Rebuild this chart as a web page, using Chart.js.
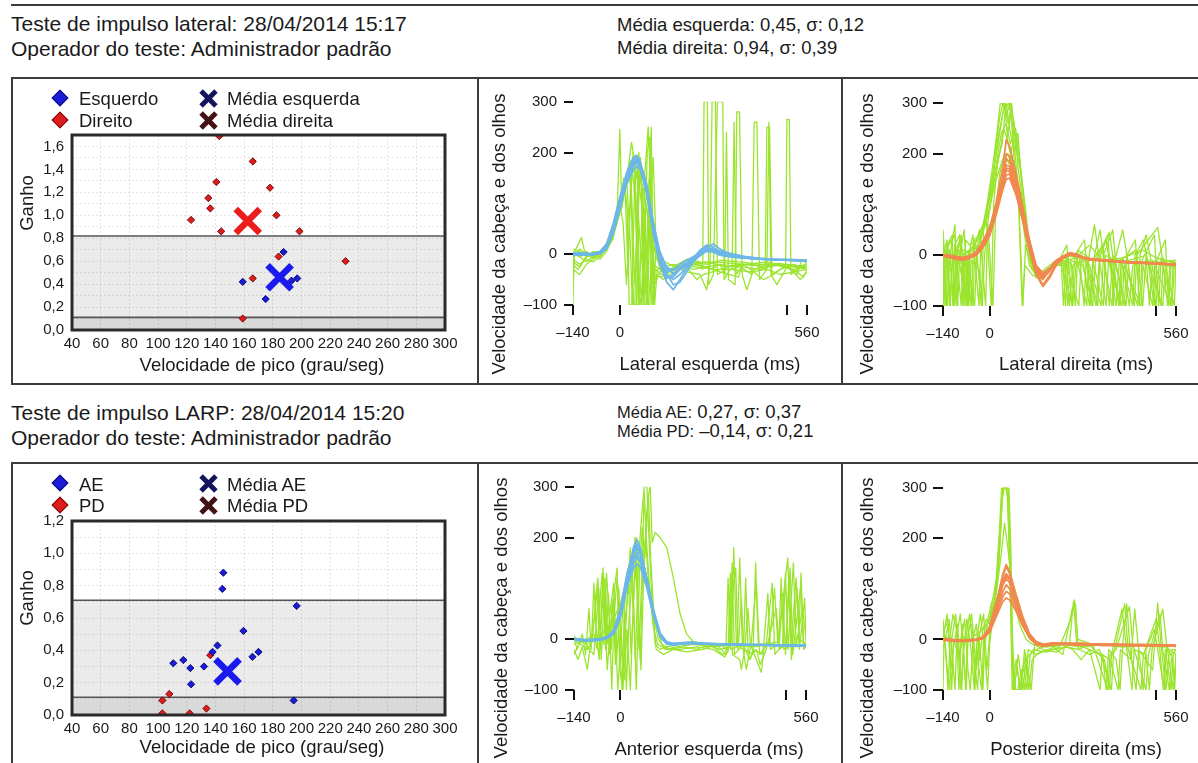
<!DOCTYPE html>
<html>
<head>
<meta charset="utf-8">
<script src="https://cdn.jsdelivr.net/npm/chart.js@4.4.1/dist/chart.umd.min.js"></script>
<style>
body{margin:0;background:#fff;font-family:"Liberation Sans",Arial,Helvetica,sans-serif;color:#1a1a1a}
#pagina{position:relative;width:1198px;height:763px;overflow:hidden}
.t{position:absolute;white-space:nowrap;line-height:1.15}
.cx{position:absolute;white-space:nowrap;line-height:1.15;transform:translateX(-50%)}
.rot{position:absolute;white-space:nowrap;line-height:1.15;transform:translate(-50%,-50%) rotate(-90deg)}
.ln{position:absolute;background:#3c3c3c}
canvas{position:absolute}
.dia{position:absolute;width:10px;height:10px;transform:translate(-50%,-50%) rotate(45deg)}
.xb{position:absolute;width:21px;height:5px;margin-left:-10.5px;margin-top:-2.5px}
</style>
</head>
<body>
<div id="pagina">

<div class="ln" style="left:11px;top:4px;width:1187px;height:1.5px"></div>

<div class="t" style="left:11px;top:12.3px;font-size:21px">Teste de impulso lateral: 28/04/2014 15:17</div>
<div class="t" style="left:11px;top:37.3px;font-size:21px">Operador do teste: Administrador padrão</div>
<div class="t" style="left:617px;top:13.6px;font-size:18.5px">Média esquerda: 0,45, σ: 0,12</div>
<div class="t" style="left:617px;top:37px;font-size:18.5px">Média direita: 0,94, σ: 0,39</div>

<div class="ln" style="left:11px;top:77px;width:1187px;height:1.5px"></div>
<div class="ln" style="left:11px;top:383px;width:1187px;height:1.5px"></div>
<div class="ln" style="left:11px;top:77px;width:1.5px;height:307px"></div>
<div class="ln" style="left:477px;top:77px;width:1.5px;height:307px"></div>
<div class="ln" style="left:841px;top:77px;width:1.5px;height:307px"></div>

<div class="t" style="left:11px;top:400.6px;font-size:21px">Teste de impulso LARP: 28/04/2014 15:20</div>
<div class="t" style="left:11px;top:425.6px;font-size:21px">Operador do teste: Administrador padrão</div>
<div class="t" style="left:617px;top:400.5px;font-size:18.5px"><span style="font-size:16.5px">Média AE:</span> 0,27, σ: 0,37</div>
<div class="t" style="left:617px;top:419.5px;font-size:18.5px"><span style="font-size:16.5px">Média PD:</span> –0,14, σ: 0,21</div>

<div class="ln" style="left:11px;top:462px;width:1187px;height:1.5px"></div>
<div class="ln" style="left:11px;top:462px;width:1.5px;height:301px"></div>
<div class="ln" style="left:477px;top:462px;width:1.5px;height:301px"></div>
<div class="ln" style="left:841px;top:462px;width:1.5px;height:301px"></div>

<canvas id="disp1" width="465" height="304" style="left:12px;top:79px"></canvas>
<canvas id="latEsq" width="362" height="304" style="left:479px;top:79px"></canvas>
<canvas id="latDir" width="355" height="304" style="left:843px;top:79px"></canvas>
<canvas id="disp2" width="465" height="300" style="left:12px;top:463px"></canvas>
<canvas id="antEsq" width="362" height="300" style="left:479px;top:463px"></canvas>
<canvas id="postDir" width="355" height="300" style="left:843px;top:463px"></canvas>

<!-- legendas dos graficos de dispersao -->
<div class="dia" style="left:60px;top:98px;background:#1c1cd8;border:1px solid #0a0a80"></div>
<div class="dia" style="left:60px;top:120px;background:#de1c1c;border:1px solid #7a0a0a"></div>
<div class="t" style="left:79px;top:88px;font-size:18.5px">Esquerdo</div>
<div class="t" style="left:79px;top:109.7px;font-size:18.5px">Direito</div>
<div class="xb" style="left:208px;top:98px;background:#14145e;transform:rotate(45deg)"></div>
<div class="xb" style="left:208px;top:98px;background:#14145e;transform:rotate(-45deg)"></div>
<div class="xb" style="left:208px;top:120px;background:#421212;transform:rotate(45deg)"></div>
<div class="xb" style="left:208px;top:120px;background:#421212;transform:rotate(-45deg)"></div>
<div class="t" style="left:227px;top:88px;font-size:18.5px">Média esquerda</div>
<div class="t" style="left:227px;top:109.7px;font-size:18.5px">Média direita</div>

<div class="dia" style="left:60px;top:483px;background:#1c1cd8;border:1px solid #0a0a80"></div>
<div class="dia" style="left:60px;top:505px;background:#de1c1c;border:1px solid #7a0a0a"></div>
<div class="t" style="left:79px;top:473.7px;font-size:18.5px">AE</div>
<div class="t" style="left:79px;top:495.3px;font-size:18.5px">PD</div>
<div class="xb" style="left:208px;top:483px;background:#14145e;transform:rotate(45deg)"></div>
<div class="xb" style="left:208px;top:483px;background:#14145e;transform:rotate(-45deg)"></div>
<div class="xb" style="left:208px;top:505px;background:#421212;transform:rotate(45deg)"></div>
<div class="xb" style="left:208px;top:505px;background:#421212;transform:rotate(-45deg)"></div>
<div class="t" style="left:227px;top:473.7px;font-size:18.5px">Média AE</div>
<div class="t" style="left:227px;top:495.3px;font-size:18.5px">Média PD</div>

<!-- titulos dos eixos -->
<div class="rot" style="left:27px;top:203px;font-size:18.5px">Ganho</div>
<div class="cx" style="left:262px;top:353.7px;font-size:18.5px">Velocidade de pico (grau/seg)</div>
<div class="rot" style="left:27px;top:598px;font-size:18.5px">Ganho</div>
<div class="cx" style="left:262px;top:736px;font-size:18.5px">Velocidade de pico (grau/seg)</div>

<div class="rot" style="left:499px;top:234px;font-size:18.5px">Velocidade da cabeça e dos olhos</div>
<div class="rot" style="left:867px;top:234px;font-size:18.5px">Velocidade da cabeça e dos olhos</div>
<div class="rot" style="left:501px;top:618px;font-size:18.5px">Velocidade da cabeça e dos olhos</div>
<div class="rot" style="left:867px;top:618px;font-size:18.5px">Velocidade da cabeça e dos olhos</div>

<div class="cx" style="left:710px;top:353px;font-size:18.5px">Lateral esquerda (ms)</div>
<div class="cx" style="left:1076px;top:353px;font-size:18.5px">Lateral direita (ms)</div>
<div class="cx" style="left:709px;top:738px;font-size:18.5px">Anterior esquerda (ms)</div>
<div class="cx" style="left:1076px;top:738px;font-size:18.5px">Posterior direita (ms)</div>

</div>
<script>
// ---------- dispersao: impulso lateral ----------
const velEsq1 = [187.5, 159, 197, 193, 175]
const ganhoEsq1 = [0.68, 0.42, 0.45, 0.43, 0.27]
const velDir1 = [142.7, 166, 140.6, 178, 135, 136.4, 123, 182.5, 144, 198.6, 184, 230.7, 166, 159]
const ganhoDir1 = [1.69, 1.47, 1.29, 1.24, 1.15, 1.06, 0.96, 1.0, 0.86, 0.86, 0.64, 0.60, 0.45, 0.10]
const mediaEsq1 = [184.7, 0.46]
const mediaDir1 = [162.5, 0.95]
const limites1 = [0.11, 0.82]

// ---------- dispersao: impulso LARP ----------
const velAE = [145.5, 144.8, 196.6, 159.5, 141.4, 138, 170, 165.8, 110.6, 117.6, 122.5, 132, 123, 194.5]
const ganhoAE = [0.88, 0.78, 0.675, 0.52, 0.43, 0.39, 0.39, 0.36, 0.32, 0.34, 0.29, 0.30, 0.19, 0.09]
const velPD = [136.4, 107.8, 103, 133.7, 103, 122]
const ganhoPD = [0.37, 0.13, 0.09, 0.04, 0.01, 0.01]
const mediaAE = [148.4, 0.27]
const limites2 = [0.11, 0.71]

// ---------- tracados de velocidade ----------
const xTicks = [-140, 0, 500, 560]
const xTickLabels = ['\u2013140', '0', '', '560']
const yTicks = [-100, 0, 200, 300]

const tCabeca = [-140,-120,-100,-80,-60,-40,-20,0,20,40,50,60,80,100,120,140,160,180,200,220,240,260,280,300,340,380,420,460,500,540,560]

const cabecaLatEsq = [
[2,0,-2,0,4,18,55,105,155,188,195,185,135,55,-8,-35,-30,-20,-12,-5,4,10,6,-2,-6,-8,-10,-11,-12,-13,-14],
[0,3,1,-2,2,12,45,95,145,178,186,178,128,48,-15,-45,-45,-30,-20,-8,8,18,14,2,-4,-7,-9,-10,-11,-12,-12],
[-3,-1,2,0,0,10,40,88,140,172,180,170,120,40,-20,-55,-70,-50,-28,-12,0,8,10,4,-2,-6,-8,-10,-12,-12,-13],
[1,2,0,1,5,20,60,112,160,190,192,180,125,45,-12,-40,-50,-40,-25,-10,2,15,20,10,-3,-7,-9,-10,-10,-11,-12],
[0,-2,-1,2,3,15,48,98,148,180,188,182,140,65,0,-28,-38,-30,-22,-12,-3,6,5,-1,-5,-8,-10,-11,-12,-13,-13],
[-2,1,0,-1,2,14,50,100,150,176,182,174,130,52,-10,-38,-60,-55,-35,-15,-2,10,12,6,0,-5,-8,-10,-11,-12,-12],
[2,0,1,0,4,16,52,103,152,184,190,176,122,42,-18,-48,-40,-28,-18,-8,6,14,8,0,-4,-8,-9,-11,-12,-12,-14],
[0,1,-1,1,3,12,42,90,138,165,172,168,132,60,5,-25,-32,-25,-16,-6,2,6,4,-2,-6,-8,-10,-12,-12,-13,-14]
]
const olhosLatEsq = [
[[-140,-100],[-137,0],[-120,-5],[-100,0],[-80,-5],[-60,0],[-40,10],[-20,30],[-8,80],[0,245],[6,90],[20,150],[30,40],[38,-100],[45,-100],[52,120],[60,30],[70,-40],[85,-100],[95,-20],[110,-25],[130,-35],[150,-30],[180,-20],[220,-15],[260,-20],[300,-12],[360,-15],[420,-20],[480,-18],[520,-25],[560,-20]],
[[-140,-60],[-135,5],[-115,33],[-105,5],[-80,-5],[-60,0],[-40,20],[-20,50],[0,100],[20,140],[35,220],[45,180],[55,-100],[65,-100],[75,160],[85,250],[92,140],[100,-100],[108,10],[120,-30],[140,-40],[160,-25],[200,-10],[240,-15],[248,-30],[252,300],[262,300],[266,-60],[280,-40],[292,300],[308,300],[312,-50],[330,-30],[380,-20],[440,-25],[500,-20],[560,-25]],
[[-140,-10],[-120,-20],[-100,-10],[-80,-15],[-60,-5],[-40,10],[-20,40],[0,90],[15,130],[25,170],[35,120],[45,-60],[55,80],[62,190],[70,60],[80,-100],[90,-100],[96,40],[105,-40],[125,-45],[145,-35],[180,-25],[230,-20],[270,-30],[300,-20],[314,-40],[319,240],[325,-50],[345,-60],[350,280],[358,280],[366,-40],[380,-70],[400,-30],[460,-20],[520,-25],[560,-30]],
[[-140,5],[-120,0],[-100,5],[-80,-5],[-60,-10],[-40,5],[-20,35],[0,85],[20,150],[30,185],[42,140],[50,40],[60,-100],[72,-60],[82,200],[90,230],[98,60],[104,-100],[112,-30],[130,-25],[160,-20],[220,-30],[300,-20],[360,-25],[395,-40],[402,260],[410,260],[418,-50],[440,-30],[446,260],[452,-40],[470,-60],[496,-30],[500,265],[507,265],[512,-40],[530,-30],[560,-20]],
[[-140,-30],[-120,-40],[-100,-20],[-80,-10],[-60,0],[-40,15],[-20,45],[0,95],[20,145],[40,170],[55,150],[65,100],[75,-100],[83,-100],[92,110],[100,190],[108,20],[120,-10],[150,-20],[200,-35],[240,-40],[260,-70],[270,-20],[276,300],[286,300],[292,-40],[320,-30],[336,-30],[342,260],[348,-40],[370,-20],[430,-50],[460,-40],[500,-20],[540,-50],[560,-35]],
[[-140,0],[-120,-5],[-100,-15],[-80,-5],[-60,0],[-40,10],[-20,35],[0,80],[20,135],[40,165],[60,150],[80,90],[100,20],[120,-20],[140,-35],[160,-30],[200,-20],[260,-15],[320,-25],[380,-20],[440,-15],[500,-25],[530,-40],[545,-10],[560,-20]],
[[-140,-20],[-125,-30],[-100,-5],[-80,5],[-60,5],[-40,20],[-20,50],[0,100],[10,60],[20,-60],[30,80],[40,200],[48,90],[58,-100],[68,120],[78,-20],[88,150],[96,-100],[104,-60],[120,-35],[150,-30],[200,-25],[230,-50],[250,-40],[300,-30],[350,-20],[400,-20],[435,-30],[440,250],[448,250],[455,-40],[480,-30],[520,-20],[560,-30]],
[[-140,-5],[-120,10],[-100,0],[-80,-8],[-60,2],[-40,12],[-20,40],[0,88],[20,140],[35,170],[50,175],[70,130],[90,50],[110,-10],[130,-30],[160,-28],[220,-20],[280,-15],[340,-18],[400,-22],[460,-20],[520,-30],[560,-25]],
[[-140,-15],[-120,-25],[-100,-5],[-80,0],[-60,-5],[-40,15],[-20,45],[0,95],[12,150],[22,90],[28,-100],[36,-100],[44,130],[52,170],[58,-40],[66,-100],[74,90],[82,-80],[90,180],[98,-50],[106,-30],[125,-40],[150,-35],[190,-25],[230,-25],[280,-30],[330,-30],[390,-35],[440,-30],[480,-40],[520,-35],[560,-30]],
[[-140,10],[-120,5],[-100,-5],[-80,0],[-60,5],[-40,15],[-20,40],[0,90],[15,140],[25,-40],[33,160],[41,-100],[50,-100],[57,200],[64,140],[72,-100],[80,-100],[87,120],[94,250],[101,-60],[110,-40],[130,-50],[150,-40],[180,-30],[220,-20],[260,-25],[300,-35],[355,-45],[365,-25],[420,-30],[470,-20],[530,-35],[550,-45],[560,-30]]
]

const cabecaLatDir = [
[0,-3,-5,-8,-5,2,18,42,88,140,168,165,125,72,15,-32,-48,-30,-15,-5,2,0,-5,-8,-10,-12,-14,-15,-16,-18,-18],
[2,0,-2,-6,-3,5,22,48,95,155,190,185,140,80,20,-25,-40,-28,-12,-3,4,2,-4,-7,-9,-11,-13,-15,-16,-17,-19],
[-2,-5,-8,-10,-6,0,15,38,80,130,150,152,118,65,10,-35,-58,-40,-18,-6,0,-1,-6,-9,-11,-13,-15,-16,-17,-18,-20],
[0,-2,-4,-5,-2,6,25,52,105,175,228,215,160,95,30,-20,-35,-25,-10,-2,5,3,-3,-6,-9,-11,-13,-14,-15,-17,-18],
[1,-1,-6,-7,-4,3,20,44,90,145,172,170,128,70,12,-30,-45,-32,-14,-4,3,0,-5,-8,-10,-12,-14,-15,-16,-18,-19],
[-1,-4,-7,-9,-5,1,16,40,84,135,158,160,122,68,8,-38,-62,-45,-20,-7,1,-2,-6,-9,-11,-13,-15,-16,-17,-19,-20],
[0,-2,-3,-4,-1,7,28,55,100,150,178,175,132,75,18,-28,-42,-28,-12,-3,3,1,-4,-7,-10,-12,-13,-15,-16,-17,-18],
[1,0,-3,-6,-3,4,20,46,92,158,200,195,150,88,25,-22,-38,-27,-11,-3,4,2,-4,-7,-9,-11,-13,-14,-16,-17,-19]
]
const olhosLatDir = [
[[-140,50],[-135,0],[-120,10],[-110,-100],[-105,20],[-90,40],[-80,-100],[-72,30],[-60,20],[-40,30],[-20,60],[0,120],[20,200],[35,260],[45,300],[55,220],[70,180],[90,120],[105,40],[120,-20],[140,-40],[160,-30],[200,-10],[230,-5],[240,-100],[250,-20],[280,-10],[300,-100],[310,-10],[340,20],[360,-100],[370,0],[400,-20],[420,-100],[430,-20],[480,-10],[500,-100],[510,-15],[560,-20]],
[[-140,-100],[-132,10],[-115,30],[-100,-100],[-95,10],[-70,0],[-55,-100],[-48,30],[-30,40],[-10,80],[10,160],[25,230],[40,280],[50,300],[60,250],[75,200],[85,240],[95,150],[110,60],[125,0],[150,-50],[175,-30],[210,-10],[250,-100],[262,0],[290,-15],[320,-100],[330,-5],[350,30],[380,-100],[390,-10],[440,10],[460,-100],[470,-5],[520,-100],[530,-10],[560,-15]],
[[-140,20],[-125,-10],[-118,-100],[-112,0],[-90,-20],[-65,-100],[-58,10],[-40,20],[-25,-100],[-18,50],[0,90],[15,150],[30,200],[42,250],[52,230],[65,280],[72,200],[88,100],[100,-100],[108,20],[130,-30],[160,-40],[190,-20],[230,-20],[268,-100],[276,0],[300,-20],[335,-100],[342,0],[370,50],[380,-20],[410,-100],[418,-10],[470,0],[480,-100],[490,-10],[545,-100],[552,-10],[560,-20]],
[[-140,0],[-128,30],[-120,-100],[-112,-20],[-95,20],[-85,40],[-75,-100],[-68,0],[-45,-100],[-38,10],[-20,50],[0,110],[20,180],[35,240],[50,260],[62,220],[78,250],[92,180],[105,90],[118,20],[135,-30],[160,-35],[200,-15],[220,-10],[228,-100],[236,0],[262,-5],[292,-100],[298,-5],[315,60],[330,-10],[350,-100],[358,0],[392,-100],[400,-5],[445,-100],[452,0],[470,40],[485,-10],[515,-100],[522,-5],[555,-100],[560,-15]],
[[-140,-20],[-130,-100],[-124,20],[-105,40],[-98,-10],[-85,-100],[-80,0],[-60,10],[-35,30],[-10,70],[5,-100],[12,100],[25,190],[38,220],[48,290],[58,300],[68,260],[80,210],[95,160],[110,80],[122,-10],[140,-45],[170,-30],[210,-10],[245,-15],[258,-100],[265,10],[310,-10],[342,-100],[348,0],[365,-5],[372,-100],[378,-5],[400,50],[415,-10],[435,-100],[442,0],[505,55],[520,-10],[535,-100],[542,-10],[560,-20]],
[[-140,-5],[-120,5],[-100,0],[-80,10],[-60,5],[-40,15],[-20,45],[0,95],[20,150],[40,190],[55,200],[70,170],[90,110],[110,40],[125,-10],[145,-40],[165,-35],[200,-15],[260,-5],[300,20],[340,-10],[400,-5],[460,10],[500,-5],[560,-15]],
[[-140,-100],[-138,-20],[-115,-30],[-108,-100],[-100,-10],[-70,-20],[-62,-100],[-55,-10],[-30,-30],[-22,-100],[-15,0],[-5,60],[10,-100],[18,80],[30,160],[45,200],[58,180],[72,230],[85,140],[98,-100],[106,-20],[130,-40],[155,-45],[185,-25],[225,-15],[235,-100],[243,-10],[280,-20],[310,-100],[318,-10],[355,40],[362,-20],[398,-100],[404,-20],[455,-100],[461,-20],[490,-100],[497,-10],[530,-20],[560,-25]],
[[-140,30],[-126,-100],[-120,0],[-104,60],[-96,-100],[-90,0],[-76,50],[-66,-100],[-60,10],[-50,40],[-32,-100],[-26,30],[-10,90],[8,170],[22,240],[32,300],[44,300],[56,260],[66,300],[76,230],[88,200],[100,130],[112,50],[126,-10],[145,-40],[170,-30],[205,-15],[232,20],[248,-100],[256,0],[285,30],[305,-100],[312,-10],[332,50],[345,-20],[368,-100],[375,-5],[405,-100],[412,0],[438,30],[450,-100],[458,-10],[495,40],[508,-100],[515,-5],[548,-100],[556,-10],[560,-10]],
[[-140,10],[-134,-100],[-128,20],[-112,40],[-106,-100],[-100,0],[-88,30],[-78,-20],[-70,-100],[-64,10],[-50,-100],[-44,20],[-30,50],[-12,-100],[-6,60],[8,130],[20,220],[30,270],[40,300],[52,280],[62,300],[74,260],[86,170],[100,100],[114,20],[128,-20],[150,-45],[178,-30],[215,-10],[222,-100],[230,0],[270,-5],[284,-100],[290,-5],[325,-100],[332,0],[360,45],[372,-10],[388,-100],[395,-10],[430,-100],[437,0],[462,30],[475,-10],[495,-100],[502,-10],[528,30],[538,-100],[546,-10],[560,-20]]
]

const cabecaAntEsq = [
[0,-2,-3,-2,0,3,15,55,125,182,196,180,118,52,8,-8,-10,-9,-8,-8,-9,-9,-10,-10,-10,-11,-11,-12,-12,-12,-13],
[-2,-3,-4,-3,-2,2,12,48,112,168,178,168,112,48,5,-10,-12,-10,-9,-9,-10,-10,-11,-11,-11,-12,-12,-13,-13,-13,-14],
[1,0,-1,0,1,5,18,60,130,172,182,172,120,58,12,-5,-8,-7,-6,-6,-7,-8,-8,-9,-9,-10,-10,-11,-11,-12,-12],
[-1,-2,-3,-3,-1,2,10,42,100,150,160,152,104,46,4,-9,-11,-10,-9,-9,-10,-10,-10,-11,-11,-12,-12,-12,-13,-13,-13],
[0,-1,-2,-1,0,4,16,52,118,160,170,165,116,54,10,-6,-9,-8,-7,-7,-8,-8,-9,-9,-10,-10,-11,-11,-12,-12,-12],
[-1,-2,-2,-2,-1,3,13,45,105,140,148,142,100,45,6,-8,-10,-9,-8,-8,-9,-9,-10,-10,-10,-11,-11,-12,-12,-13,-13],
[0,-1,-2,-2,0,4,17,56,122,176,188,176,118,55,9,-7,-9,-8,-7,-8,-8,-9,-9,-10,-10,-11,-11,-12,-12,-12,-13],
[1,-1,-3,-2,-1,2,12,46,108,158,165,158,108,50,7,-8,-10,-9,-8,-8,-9,-10,-10,-10,-11,-11,-12,-12,-12,-13,-13]
]
const olhosAntEsq = [
[[-140,-10],[-120,-5],[-100,0],[-80,10],[-70,-20],[-60,90],[-55,130],[-50,40],[-45,100],[-40,-10],[-30,60],[-20,110],[-12,-40],[-5,20],[5,-100],[12,60],[20,130],[28,90],[35,150],[45,-40],[55,160],[65,250],[72,300],[80,300],[86,200],[95,80],[105,-10],[120,-20],[140,-15],[180,-10],[220,-5],[260,-15],[300,-10],[320,-20],[335,-5],[342,180],[350,-10],[370,-20],[380,-60],[395,-5],[410,110],[420,-30],[450,-5],[465,100],[475,-10],[505,160],[515,-10],[530,120],[540,0],[560,-10]],
[[-140,0],[-120,-10],[-100,-20],[-85,-5],[-75,80],[-68,120],[-62,20],[-50,-10],[-42,130],[-35,60],[-28,-20],[-18,100],[-10,140],[-2,-60],[8,-100],[15,40],[25,110],[32,-30],[40,70],[48,-100],[58,140],[66,220],[74,160],[84,280],[90,300],[96,190],[105,210],[120,200],[140,180],[160,120],[180,50],[200,10],[220,-5],[260,-10],[300,-20],[330,-15],[340,100],[348,140],[355,-20],[365,80],[372,-20],[400,-30],[408,150],[416,-10],[440,-10],[458,110],[466,-30],[490,-10],[498,130],[506,-20],[522,150],[530,-10],[550,60],[560,0]],
[[-140,-30],[-125,-10],[-110,0],[-95,-20],[-80,-30],[-65,100],[-58,-40],[-48,90],[-40,-60],[-30,20],[-22,80],[-15,-50],[-5,100],[2,-20],[12,-80],[20,20],[30,-100],[38,50],[46,150],[54,40],[62,-60],[70,120],[78,240],[85,280],[92,150],[100,60],[110,30],[125,-10],[150,-20],[190,-15],[230,-20],[270,-10],[310,-30],[325,-25],[332,130],[338,-30],[360,-40],[365,-60],[375,-20],[385,60],[392,-10],[425,-65],[435,-10],[480,-5],[490,90],[498,-30],[512,140],[520,-30],[545,110],[552,-10],[560,-5]],
[[-140,5],[-120,-5],[-100,-10],[-80,0],[-60,10],[-40,20],[-20,40],[0,70],[20,120],[40,160],[55,180],[70,150],[85,100],[100,40],[115,0],[135,-20],[170,-15],[220,-10],[280,-15],[340,-10],[400,-15],[460,-10],[520,-15],[560,-10]],
[[-140,-20],[-128,-40],[-115,-15],[-100,-60],[-90,-10],[-78,40],[-70,100],[-63,-20],[-55,60],[-47,120],[-40,30],[-32,-30],[-25,70],[-15,30],[-8,-100],[0,-20],[10,90],[18,-100],[26,40],[36,120],[44,200],[52,100],[60,-40],[68,160],[76,200],[84,120],[94,70],[108,-20],[130,-30],[160,-20],[200,-25],[250,-20],[290,-10],[318,-30],[325,120],[332,-20],[352,-15],[360,160],[368,-10],[392,-40],[400,-20],[430,-30],[445,90],[452,-20],[478,-10],[485,120],[493,-20],[538,-5],[545,130],[553,-20],[560,-15]],
[[-140,0],[-130,-20],[-115,10],[-105,-30],[-95,60],[-88,-20],[-80,110],[-72,10],[-64,-40],[-52,140],[-45,-20],[-36,90],[-26,-100],[-20,40],[-10,120],[0,30],[10,-60],[22,100],[30,180],[38,60],[48,200],[56,-20],[64,110],[72,290],[78,200],[88,100],[98,30],[112,-10],[140,-20],[180,-20],[230,-15],[280,-20],[315,-35],[330,-10],[337,150],[344,-30],[372,-10],[378,120],[386,-40],[410,-20],[422,-50],[440,-20],[470,60],[480,-20],[500,-10],[508,120],[516,-40],[533,100],[540,-20],[556,80],[560,-5]]
]

const cabecaPostDir = [
[0,0,-2,-3,-2,-1,3,22,70,125,144,130,85,42,10,-5,-10,-8,-7,-7,-8,-8,-8,-9,-9,-10,-10,-10,-11,-11,-12],
[-2,-3,-4,-4,-3,-2,2,18,60,108,120,112,75,36,6,-8,-12,-10,-9,-9,-9,-10,-10,-10,-11,-11,-11,-12,-12,-12,-13],
[1,0,-1,-2,-1,0,5,25,75,118,130,122,80,40,8,-6,-10,-9,-8,-8,-8,-9,-9,-9,-10,-10,-10,-11,-11,-11,-12],
[-1,-2,-3,-3,-2,-1,2,15,50,85,95,90,60,28,2,-10,-14,-12,-10,-10,-10,-11,-11,-11,-12,-12,-12,-13,-13,-13,-14],
[0,-1,-2,-2,-1,0,4,20,65,112,126,118,78,38,7,-7,-11,-9,-8,-8,-9,-9,-9,-10,-10,-10,-11,-11,-11,-12,-12],
[0,-1,-3,-3,-2,-1,3,16,55,95,108,100,68,32,4,-9,-13,-11,-9,-9,-10,-10,-10,-11,-11,-11,-12,-12,-12,-13,-13],
[1,0,-2,-2,-1,0,4,23,72,130,148,135,88,44,11,-4,-9,-8,-7,-7,-8,-8,-8,-9,-9,-9,-10,-10,-10,-11,-11],
[-1,-1,-3,-3,-2,-1,2,14,45,75,82,78,55,26,3,-10,-13,-11,-10,-10,-10,-11,-11,-11,-12,-12,-12,-13,-13,-13,-14]
]
const olhosPostDir = [
[[-140,40],[-132,-20],[-125,-100],[-118,10],[-110,50],[-100,20],[-92,-100],[-85,0],[-75,40],[-65,-60],[-58,-100],[-50,0],[-40,30],[-30,-40],[-20,20],[-10,40],[0,30],[10,60],[20,100],[30,180],[38,280],[44,300],[52,300],[58,200],[64,60],[72,-100],[82,-60],[95,-100],[105,-20],[125,-100],[135,-10],[160,-20],[200,-25],[240,-10],[252,75],[262,-10],[300,-20],[340,-30],[350,-100],[358,-20],[380,-40],[392,-100],[400,-10],[412,70],[422,-20],[440,-100],[448,-20],[490,-60],[505,72],[515,-10],[530,-100],[540,-20],[560,-30]],
[[-140,-100],[-136,20],[-122,40],[-112,-30],[-104,-100],[-98,10],[-88,50],[-80,-10],[-70,-100],[-64,20],[-52,30],[-44,-100],[-38,0],[-28,50],[-15,-20],[-5,40],[5,70],[15,90],[28,150],[36,260],[42,300],[50,300],[56,300],[62,150],[70,-20],[78,-100],[90,-100],[102,-50],[112,-100],[122,-30],[140,-20],[180,-10],[220,-30],[248,60],[258,70],[266,-20],[300,-10],[320,-25],[345,-40],[360,-100],[366,-30],[398,60],[410,-10],[428,-100],[434,-20],[470,-30],[480,-100],[488,-20],[520,60],[532,-10],[552,-100],[560,-30]],
[[-140,0],[-128,50],[-116,-60],[-108,-10],[-96,30],[-84,-100],[-78,-20],[-60,50],[-48,-30],[-36,-100],[-30,10],[-18,50],[-8,-60],[0,10],[12,50],[22,120],[32,200],[40,300],[48,300],[55,280],[62,100],[68,-100],[80,-40],[92,-100],[108,-30],[118,-100],[128,-40],[150,-25],[190,-20],[230,-15],[270,-20],[300,-30],[330,-20],[366,-100],[372,-30],[406,70],[416,-20],[455,-100],[462,-30],[500,40],[510,-10],[522,-100],[528,-20],[545,-100],[552,-30],[560,-20]],
[[-140,10],[-120,0],[-100,-5],[-80,5],[-60,0],[-40,10],[-20,20],[0,40],[20,90],[35,170],[45,230],[55,180],[70,90],[90,30],[110,0],[130,-10],[170,-15],[220,-10],[280,-15],[340,-10],[400,-15],[460,-10],[520,-15],[560,-12]],
[[-140,30],[-130,-40],[-120,-100],[-114,0],[-102,50],[-94,-20],[-86,-100],[-80,-30],[-68,40],[-56,-20],[-46,-100],[-40,-20],[-24,-100],[-18,0],[-6,-100],[0,-10],[15,70],[25,140],[34,250],[40,300],[47,300],[54,300],[60,220],[66,20],[74,-100],[86,-30],[100,-100],[110,-40],[132,-20],[170,-25],[210,-15],[244,40],[255,78],[265,0],[310,-10],[355,-100],[362,-30],[380,-20],[420,65],[430,-10],[470,-100],[477,-30],[512,50],[520,-20],[540,-100],[548,-20],[560,-20]],
[[-140,-20],[-124,30],[-114,-100],[-108,0],[-90,-40],[-82,30],[-72,-100],[-66,0],[-54,50],[-40,-60],[-32,10],[-20,-100],[-14,20],[0,40],[10,80],[20,120],[30,220],[36,300],[46,300],[58,300],[64,180],[70,-60],[76,-100],[84,-100],[96,-60],[106,-100],[116,-20],[140,-30],[175,-20],[215,-10],[250,-20],[275,-40],[300,-20],[332,-100],[338,-30],[362,-40],[386,-100],[393,-20],[425,-40],[436,60],[446,-10],[462,-100],[470,-20],[495,20],[525,-100],[532,-10],[550,-40],[556,-100],[560,-30]]
]

const fonte = '"Liberation Sans", Arial, sans-serif'
const verde = '#9be42e'
const azul = '#6cb7e8'
const laranja = '#f0894e'

function pontos(xs, ys){
  return xs.map((x,i)=>({x:x, y:ys[i]}))
}

// faixas cinzas, linhas de limite e moldura
const faixas = {
  id:'faixas',
  beforeDraw(c, args, o){
    const a = c.chartArea, y = c.scales.y, ctx = c.ctx
    const ya = y.getPixelForValue(o.lim[1]), yb = y.getPixelForValue(o.lim[0])
    ctx.save()
    ctx.fillStyle = '#ebebeb'
    ctx.fillRect(a.left, ya, a.width, yb-ya)
    ctx.fillStyle = '#d9d9d9'
    ctx.fillRect(a.left, yb, a.width, a.bottom-yb)
    ctx.restore()
  },
  beforeDatasetsDraw(c, args, o){
    const a = c.chartArea, y = c.scales.y, ctx = c.ctx
    ctx.save()
    ctx.strokeStyle = '#555'
    ctx.lineWidth = 1.6
    o.lim.forEach(v=>{
      const p = y.getPixelForValue(v)
      ctx.beginPath(); ctx.moveTo(a.left, p); ctx.lineTo(a.right, p); ctx.stroke()
    })
    ctx.restore()
  },
  afterDraw(c){
    const a = c.chartArea, ctx = c.ctx
    ctx.save()
    ctx.strokeStyle = '#2a2a2a'
    ctx.lineWidth = 3
    ctx.strokeRect(a.left, a.top, a.width, a.height)
    ctx.restore()
  }
}

function dispersao(id, sets, yMax, lim, g){
  const ds = [
    {data:pontos([sets.mediaA[0]],[sets.mediaA[1]]), pointStyle:'crossRot', pointRadius:17, borderWidth:6.5, borderColor:'#1a1aee'},
    {data:sets.mediaB ? pontos([sets.mediaB[0]],[sets.mediaB[1]]) : [], pointStyle:'crossRot', pointRadius:17, borderWidth:6.5, borderColor:'#ec1c1c'},
    {data:pontos(sets.velA, sets.ganhoA), pointStyle:'rectRot', pointRadius:3.6, backgroundColor:'#1c1cd8', borderColor:'#0a0a80', borderWidth:1},
    {data:pontos(sets.velB, sets.ganhoB), pointStyle:'rectRot', pointRadius:3.6, backgroundColor:'#de1c1c', borderColor:'#7a0a0a', borderWidth:1}
  ]
  new Chart(document.getElementById(id), {
    type:'scatter',
    data:{datasets:ds},
    plugins:[faixas],
    options:{
      responsive:false, animation:false, events:[],
      layout:{padding:{top:g.top, right:g.right, left:0, bottom:0}},
      plugins:{legend:{display:false}, tooltip:{enabled:false}, faixas:{lim:lim}},
      scales:{
        x:{type:'linear', min:40, max:300,
          afterFit:s=>{s.height = g.xh},
          ticks:{stepSize:20, autoSkip:false, maxRotation:0, padding:5, color:'#1a1a1a', font:{size:15, family:fonte}},
          grid:{drawTicks:false, color:'rgba(0,0,0,0.10)'},
          border:{display:false, dash:[2,2]}},
        y:{min:0, max:yMax,
          afterFit:s=>{s.width = 60},
          ticks:{stepSize:0.1, autoSkip:false, padding:8, color:'#1a1a1a', font:{size:15, family:fonte},
            callback:v=> Math.round(v*10)%2===0 ? v.toFixed(1).replace('.', ',') : ''},
          grid:{drawTicks:false, color:'rgba(0,0,0,0.10)'},
          border:{display:false, dash:[2,2]}}
      }
    }
  })
}

function painel(id, cabeca, olhos, cor, g){
  const ds = []
  cabeca.forEach(v=>{
    ds.push({data:v.map((y,i)=>({x:tCabeca[i], y:y})), borderColor:cor, borderWidth:1.7, pointRadius:0, borderJoinStyle:'round'})
  })
  olhos.forEach(tr=>{
    ds.push({data:tr.map(p=>({x:p[0], y:p[1]})), borderColor:verde, borderWidth:1.3, pointRadius:0, borderJoinStyle:'round'})
  })
  new Chart(document.getElementById(id), {
    type:'line',
    data:{datasets:ds},
    options:{
      responsive:false, animation:false, events:[],
      layout:{padding:{top:g.top, right:g.right, left:0, bottom:0}},
      plugins:{legend:{display:false}, tooltip:{enabled:false}},
      scales:{
        x:{type:'linear', min:-140, max:560,
          afterFit:s=>{s.height = g.xh},
          afterBuildTicks:s=>{s.ticks = xTicks.map(v=>({value:v}))},
          ticks:{autoSkip:false, maxRotation:0, padding:9, color:'#1a1a1a', font:{size:15, family:fonte},
            callback:v=>xTickLabels[xTicks.indexOf(v)]},
          grid:{drawOnChartArea:false, drawTicks:true, tickLength:10, color:'#111', lineWidth:2},
          border:{display:false}},
        y:{min:-100, max:300,
          afterFit:s=>{s.width = g.yw},
          afterBuildTicks:s=>{s.ticks = yTicks.map(v=>({value:v}))},
          ticks:{autoSkip:false, padding:g.yp, color:'#1a1a1a', font:{size:15, family:fonte},
            callback:v=> v<0 ? '\u2013'+(-v) : ''+v},
          grid:{drawOnChartArea:false, drawTicks:true, tickLength:g.tl, color:'#111', lineWidth:2},
          border:{display:false}}
      }
    }
  })
}

dispersao('disp1', {velA:velEsq1, ganhoA:ganhoEsq1, velB:velDir1, ganhoB:ganhoDir1, mediaA:mediaEsq1, mediaB:mediaDir1},
  1.7, limites1, {top:56, right:32, xh:53})
dispersao('disp2', {velA:velAE, ganhoA:ganhoAE, velB:velPD, ganhoB:ganhoPD, mediaA:mediaAE, mediaB:null},
  1.2, limites2, {top:58, right:32, xh:48})

painel('latEsq', cabecaLatEsq, olhosLatEsq, azul, {top:22.7, right:34, xh:78, yw:94, tl:9, yp:7})
painel('latDir', cabecaLatDir, olhosLatDir, laranja, {top:24, right:22, xh:77, yw:100, tl:10, yp:6})
painel('antEsq', cabecaAntEsq, olhosAntEsq, azul, {top:23.7, right:35, xh:73, yw:95, tl:9, yp:7})
painel('postDir', cabecaPostDir, olhosPostDir, laranja, {top:24.7, right:22, xh:73, yw:100, tl:10, yp:6})
</script>
</body>
</html>
